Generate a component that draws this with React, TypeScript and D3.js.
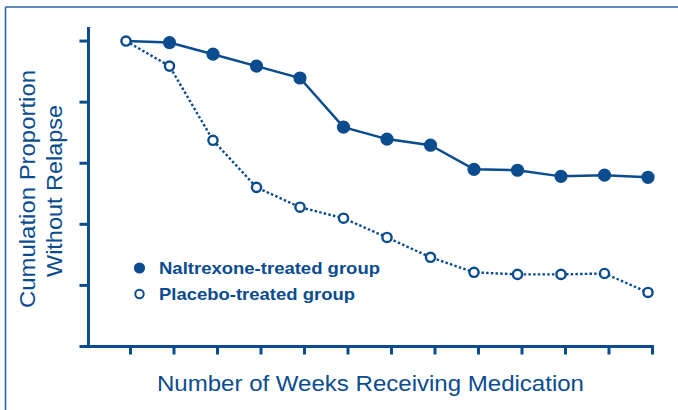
import React from "react";
import * as d3 from "d3";

// weeks on medication
const weeks = [0, 1, 2, 3, 4, 5, 6, 7, 8, 9, 10, 11, 12];
// cumulative proportion without relapse
const naltrexone = [1.0, 0.995, 0.957, 0.918, 0.879, 0.718, 0.679, 0.659, 0.58, 0.577, 0.557, 0.561, 0.554];
const placebo = [1.0, 0.918, 0.675, 0.521, 0.456, 0.42, 0.357, 0.292, 0.243, 0.236, 0.236, 0.239, 0.177];
const yTicks = [0.2, 0.4, 0.6, 0.8, 1.0];
const legendLabels = ["Naltrexone-treated group", "Placebo-treated group"];

const BLUE = "#0b4c8f";
const FONT = "'Liberation Sans', Arial, sans-serif";

export default function App() {
  const W = 678;
  const H = 410;

  const x = d3.scaleLinear().domain([0, 12]).range([126, 648]);
  const y = d3.scaleLinear().domain([0, 1.046]).range([346.5, 27]);
  const tickOffset = 4.5; // ticks sit a little right of the data points
  const axisX = 88.5;

  const line = d3
    .line<number>()
    .x((_, i) => x(weeks[i]))
    .y((d) => y(d));

  return (
    <svg
      width={W}
      height={H}
      style={{ position: "absolute", left: 0, top: 0, background: "#fff" }}
      fontFamily={FONT}
    >
      {/* frame: only top and left edges show */}
      <line x1={5.5} x2={W} y1={7} y2={7} stroke="#2a64a6" strokeWidth={1.6} />
      <line x1={5.5} x2={5.5} y1={7} y2={H} stroke="#2a64a6" strokeWidth={1.6} />

      {/* y axis */}
      <line x1={axisX} x2={axisX} y1={y(1.046)} y2={y(0) + 1.5} stroke={BLUE} strokeWidth={3} />
      {yTicks.map((t) => (
        <line key={t} x1={axisX - 9} x2={axisX} y1={y(t)} y2={y(t)} stroke={BLUE} strokeWidth={3} />
      ))}

      {/* x axis */}
      <line x1={axisX - 9} x2={x(12) + tickOffset + 1.5} y1={y(0)} y2={y(0)} stroke={BLUE} strokeWidth={3} />
      {weeks.map((w) => (
        <line
          key={w}
          x1={x(w) + tickOffset}
          x2={x(w) + tickOffset}
          y1={y(0)}
          y2={y(0) + 8}
          stroke={BLUE}
          strokeWidth={3}
        />
      ))}

      {/* placebo: dotted line, open circles */}
      <path d={line(placebo) ?? ""} fill="none" stroke={BLUE} strokeWidth={2.4} strokeDasharray="2.5,2.2" />

      {/* naltrexone: solid line, filled circles (week 0 shares the placebo point) */}
      <path d={line(naltrexone) ?? ""} fill="none" stroke={BLUE} strokeWidth={2.5} />
      {naltrexone.map((v, i) =>
        i === 0 ? null : <circle key={i} cx={x(weeks[i])} cy={y(v)} r={6.6} fill={BLUE} />
      )}
      {placebo.map((v, i) => (
        <circle key={i} cx={x(weeks[i])} cy={y(v)} r={4.6} fill="#fff" stroke={BLUE} strokeWidth={2.4} />
      ))}

      {/* legend */}
      <circle cx={139.5} cy={268} r={5.6} fill={BLUE} />
      <circle cx={139.5} cy={294} r={4.2} fill="#fff" stroke={BLUE} strokeWidth={2} />
      <text x={159} y={274} fill={BLUE} fontSize={17} fontWeight="bold" textLength={221} lengthAdjust="spacingAndGlyphs">
        {legendLabels[0]}
      </text>
      <text x={159} y={300} fill={BLUE} fontSize={17} fontWeight="bold" textLength={196} lengthAdjust="spacingAndGlyphs">
        {legendLabels[1]}
      </text>

      {/* axis titles */}
      <text
        transform="translate(35,189) rotate(-90)"
        textAnchor="middle"
        fill={BLUE}
        fontSize={22}
        textLength={238}
        lengthAdjust="spacingAndGlyphs"
      >
        Cumulation Proportion
      </text>
      <text
        transform="translate(62,191) rotate(-90)"
        textAnchor="middle"
        fill={BLUE}
        fontSize={22}
        textLength={172}
        lengthAdjust="spacingAndGlyphs"
      >
        Without Relapse
      </text>
      <text
        x={370.5}
        y={391}
        textAnchor="middle"
        fill={BLUE}
        fontSize={22}
        textLength={427}
        lengthAdjust="spacingAndGlyphs"
      >
        Number of Weeks Receiving Medication
      </text>
    </svg>
  );
}
